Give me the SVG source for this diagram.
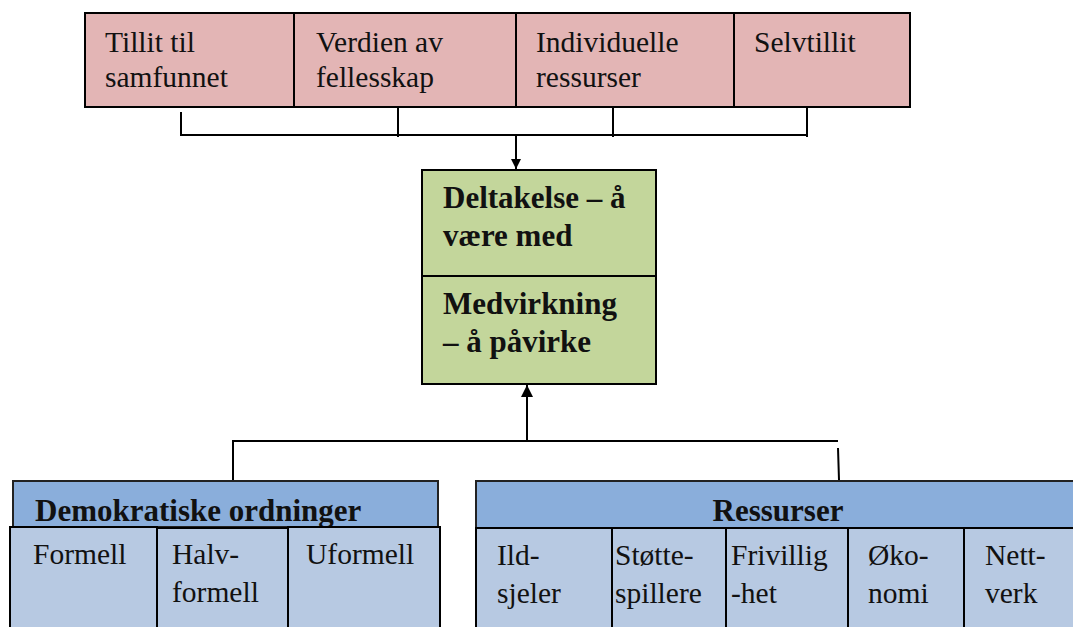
<svg xmlns="http://www.w3.org/2000/svg" width="1073" height="627" viewBox="0 0 1073 627">
<defs>
<style>
.t{font-family:"Liberation Serif","Times New Roman",serif;font-size:29.5px;fill:#111}
.b{font-family:"Liberation Serif","Times New Roman",serif;font-size:31px;font-weight:bold;fill:#111}
.ln{stroke:#000;stroke-width:2;fill:none}
.pink{fill:#e3b5b5;stroke:#000;stroke-width:2}
.green{fill:#c3d69b;stroke:#000;stroke-width:2}
.hdr{fill:#8aaedb;stroke:#222;stroke-width:2}
.cell{fill:#b7c9e2;stroke:#000;stroke-width:2}
</style>
<marker id="ah" viewBox="0 0 10 10" refX="10" refY="5" markerWidth="10" markerHeight="10" markerUnits="userSpaceOnUse" orient="auto"><path d="M0,0 L10,5 L0,10 z" fill="#000"/></marker>
<marker id="ah2" viewBox="0 0 12 12" refX="12" refY="6" markerWidth="12" markerHeight="12" markerUnits="userSpaceOnUse" orient="auto"><path d="M0,0 L12,6 L0,12 z" fill="#000"/></marker>
</defs>
<g id="top">
<rect class="pink" x="85" y="13" width="209" height="94"/>
<rect class="pink" x="294" y="13" width="222" height="94"/>
<rect class="pink" x="516" y="13" width="218" height="94"/>
<rect class="pink" x="734" y="13" width="176" height="94"/>
<text class="t" x="105" y="52">Tillit til</text>
<text class="t" x="105" y="87">samfunnet</text>
<text class="t" x="316" y="52">Verdien av</text>
<text class="t" x="316" y="87">fellesskap</text>
<text class="t" x="536" y="52">Individuelle</text>
<text class="t" x="536" y="87">ressurser</text>
<text class="t" x="754" y="52">Selvtillit</text>
</g>
<g id="center">
<rect class="green" x="422" y="170" width="234" height="106"/>
<rect class="green" x="422" y="276" width="234" height="108"/>
<text class="b" x="443" y="208">Deltakelse – å</text>
<text class="b" x="443" y="246">være med</text>
<text class="b" x="443" y="314">Medvirkning</text>
<text class="b" x="443" y="352">– å påvirke</text>
</g>
<g id="demokratiske">
<rect class="hdr" x="13" y="481" width="425" height="46"/>
<text class="b" x="35" y="521">Demokratiske ordninger</text>
<rect class="cell" x="10" y="527" width="147" height="110"/>
<rect class="cell" x="157" y="528" width="131" height="110"/>
<rect class="cell" x="288" y="527" width="152" height="110"/>
<text class="t" x="33" y="564">Formell</text>
<text class="t" x="172" y="564">Halv-</text>
<text class="t" x="172" y="602">formell</text>
<text class="t" x="306" y="564">Uformell</text>
</g>
<g id="ressurser">
<rect class="hdr" x="476" y="481" width="610" height="47"/>
<text class="b" x="778" y="521" text-anchor="middle">Ressurser</text>
<rect class="cell" x="476" y="528" width="136" height="110"/>
<rect class="cell" x="612" y="528" width="114" height="110"/>
<rect class="cell" x="726" y="528" width="122" height="110"/>
<rect class="cell" x="848" y="528" width="116" height="110"/>
<rect class="cell" x="964" y="528" width="120" height="110"/>
<text class="t" x="497" y="565">Ild-</text>
<text class="t" x="497" y="603">sjeler</text>
<text class="t" x="615" y="565">Støtte-</text>
<text class="t" x="615" y="603">spillere</text>
<text class="t" x="731" y="565">Frivillig</text>
<text class="t" x="731" y="603">-het</text>
<text class="t" x="868" y="565">Øko-</text>
<text class="t" x="868" y="603">nomi</text>
<text class="t" x="985" y="565">Nett-</text>
<text class="t" x="985" y="603">verk</text>
</g>
<g id="connectors">
<path class="ln" d="M181,112 V135 H807 M398,107 V137 M613,107 V137 M807,107 V137"/>
<path class="ln" d="M516,135 V169" marker-end="url(#ah)"/>
<path class="ln" d="M527,441 V385" marker-end="url(#ah2)"/>
<path class="ln" d="M233,480 V441 H838 M838,448 L839,480"/>
</g>
</svg>
